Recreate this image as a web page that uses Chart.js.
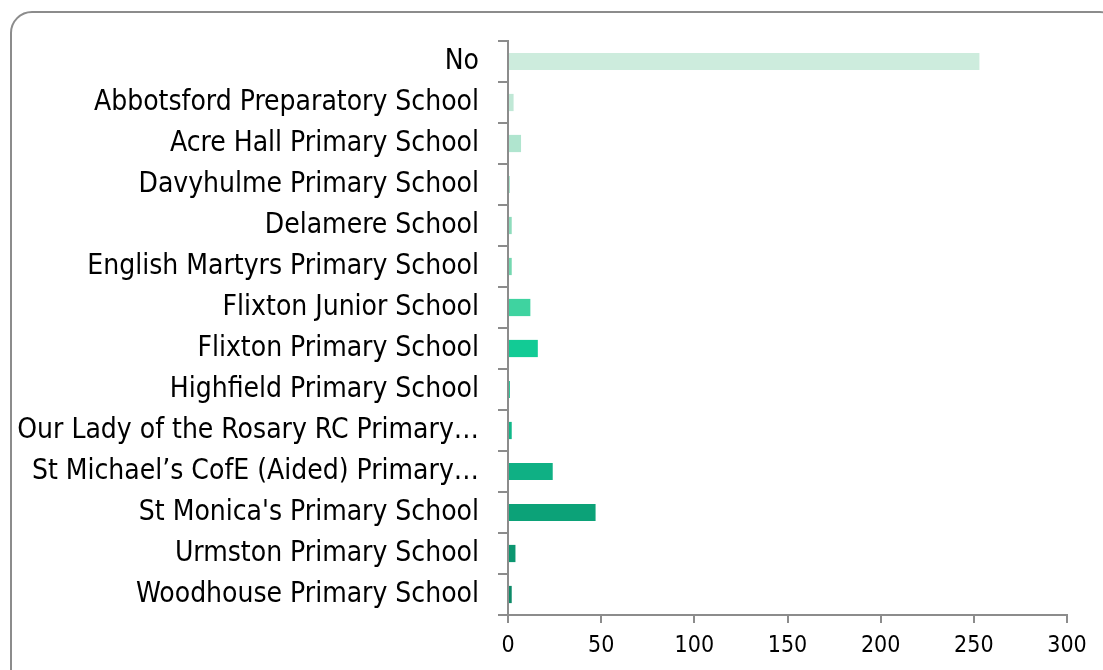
<!DOCTYPE html>
<html>
<head>
<meta charset="utf-8">
<script src="https://cdn.jsdelivr.net/npm/chart.js@4/dist/chart.umd.min.js"></script>
<style>
  html, body { margin: 0; padding: 0; background: #fff; overflow: hidden; }
  #frame {
    position: absolute; left: 10px; top: 11px; width: 1112px; height: 690px;
    border: 2px solid #8c8c8c; border-radius: 22px; box-sizing: border-box;
  }
  #wrap { position: absolute; left: 0; top: 0; width: 1103px; height: 670px; }
</style>
</head>
<body>
<div id="frame"></div>
<div id="wrap"><canvas id="myChart"></canvas></div>
<script>
// schools (as shown, long names cut by the chart)
const schools = [
    "No",
    "Abbotsford Preparatory School",
    "Acre Hall Primary School",
    "Davyhulme Primary School",
    "Delamere School",
    "English Martyrs Primary School",
    "Flixton Junior School",
    "Flixton Primary School",
    "Highfield Primary School",
    "Our Lady of the Rosary RC Primary\u2026",
    "St Michael\u2019s CofE (Aided) Primary\u2026",
    "St Monica's Primary School",
    "Urmston Primary School",
    "Woodhouse Primary School"
];
const counts = [253, 3, 7, 1, 2, 2, 12, 16, 1, 2, 24, 47, 4, 2];
const barColors = [
    "#cdecdd", "#c0e8d6", "#b0e5cf", "#a0e0c6", "#8edcbc", "#74d8b0", "#3fd3a0",
    "#12cb95", "#10c08c", "#10b889", "#0fb084", "#0ca278", "#0b9670", "#0d8a68"
];
const xTicks = [0, 50, 100, 150, 200, 250, 300];

const fontFam = "'DejaVu Sans Condensed', 'Liberation Sans Narrow', 'DejaVu Sans', sans-serif";
const axisGray = "#8c8c8c";

var ctx = document.getElementById('myChart').getContext('2d');

var myChart = new Chart(ctx, {
    type: 'bar',
    data: {
        labels: schools,
        datasets: [{
            data: counts,
            backgroundColor: barColors,
            borderWidth: 0,
            categoryPercentage: 1,
            barPercentage: 0.42
        }]
    },
    options: {
        indexAxis: 'y',
        responsive: true,
        maintainAspectRatio: false,
        animation: false,
        layout: { padding: { top: 41, right: 36, bottom: 0, left: 0 } },
        plugins: {
            legend: { display: false },
            tooltip: { enabled: false }
        },
        scales: {
            x: {
                min: 0,
                max: 300,
                afterBuildTicks: function (scale) {
                    scale.ticks = xTicks.map(v => ({ value: v }));
                },
                afterFit: function (scale) { scale.height = 55; },
                grid: {
                    drawOnChartArea: false,
                    drawTicks: true,
                    tickLength: 8,
                    color: axisGray,
                    lineWidth: 2
                },
                border: { color: axisGray, width: 2 },
                ticks: {
                    color: "#000",
                    padding: 9,
                    font: { family: fontFam, size: 23 }
                }
            },
            y: {
                afterFit: function (scale) { scale.width = 508; },
                grid: {
                    drawOnChartArea: false,
                    drawTicks: true,
                    tickLength: 10,
                    offset: true,
                    color: axisGray,
                    lineWidth: 2
                },
                border: { color: axisGray, width: 2 },
                ticks: {
                    color: "#000",
                    padding: 19,
                    autoSkip: false,
                    font: { family: fontFam, size: 28 }
                }
            }
        }
    }
});
</script>
</body>
</html>
